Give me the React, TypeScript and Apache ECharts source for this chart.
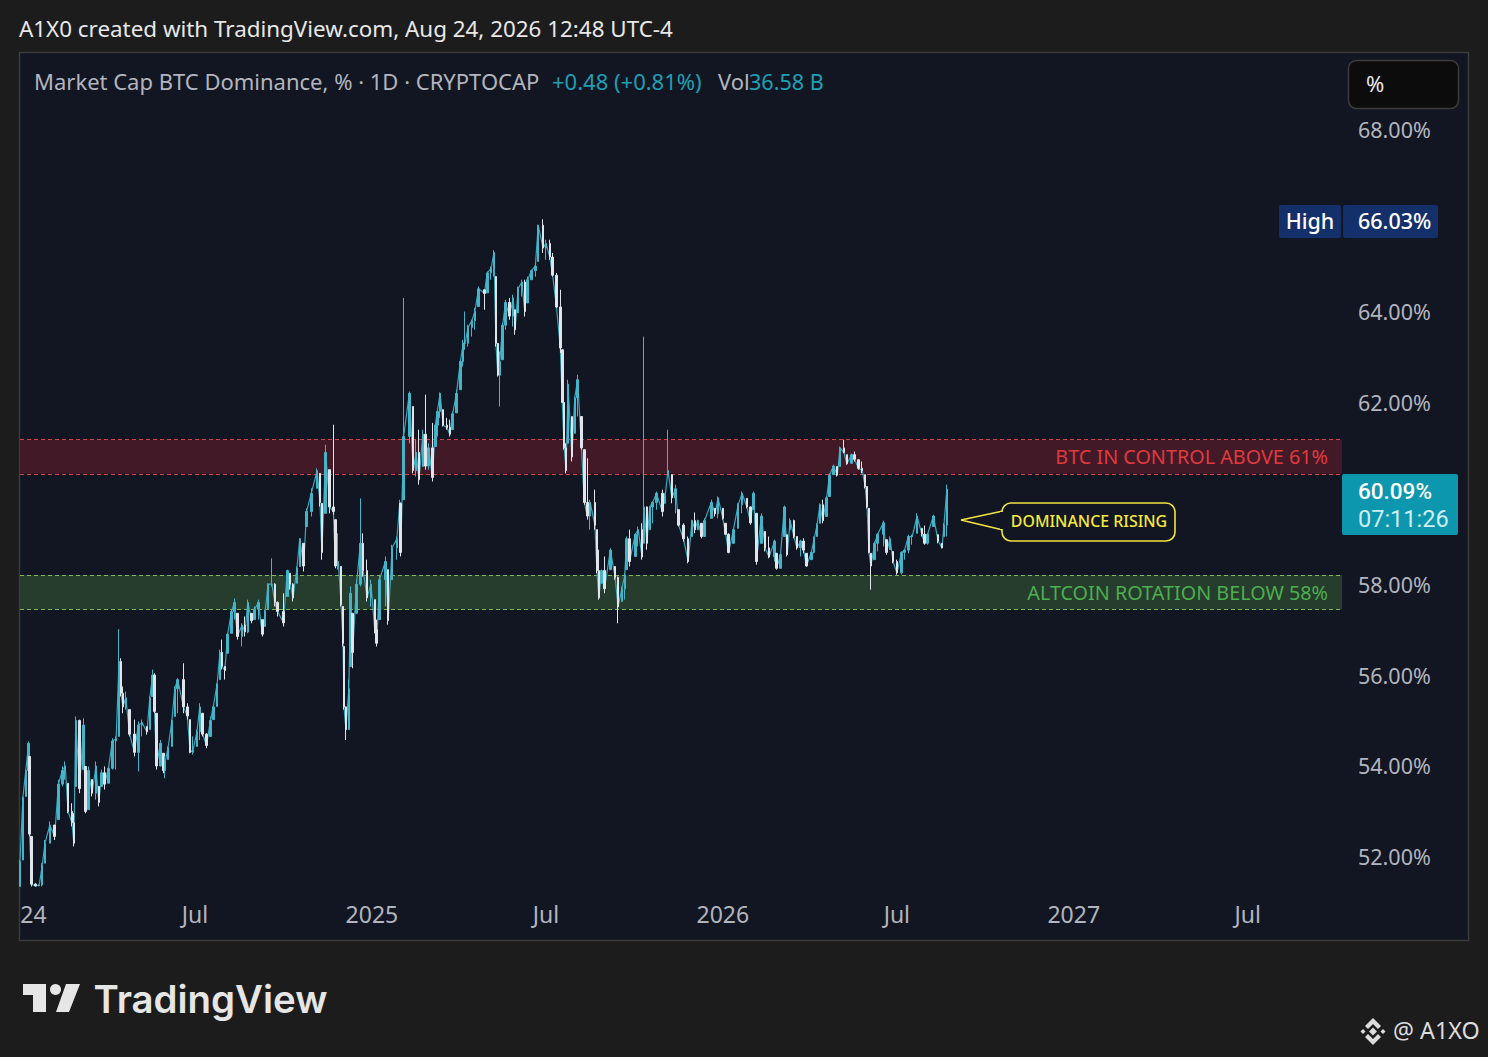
import React, { useEffect, useRef } from "react";
import * as echarts from "echarts";

// Days since 1 Jan 2024 of each sampled bar
const days = [
  0,3,6,9,10,12,16,20,23,26,
  31,36,40,44,47,50,54,56,58,62,
  66,68,71,75,79,82,85,88,92,96,
  100,103,105,107,110,114,119,123,127,132,
  135,138,140,142,146,149,151,154,158,161,
  164,170,174,177,180,184,187,190,194,198,
  201,205,208,210,213,216,220,223,226,231,
  234,237,241,244,248,252,255,258,262,265,
  268,274,278,281,284,288,291,295,298,303,
  309,312,314,318,322,326,328,331,334,336,
  337,339,342,344,346,350,354,357,361,365,
  369,371,374,380,383,387,392,395,396,399,
  405,409,412,415,419,422,425,429,432,434,
  437,440,444,447,450,454,458,461,463,466,
  470,473,477,483,486,490,493,495,497,499,
  502,505,509,513,515,518,522,525,528,532,
  536,539,544,547,551,554,558,562,564,566,
  568,570,574,577,580,584,587,590,593,598,
  600,602,605,608,614,619,622,626,629,631,
  634,640,643,647,649,652,655,658,662,668,
  671,674,678,682,685,690,695,699,702,705,
  709,712,719,723,726,731,734,737,742,747,
  751,756,760,763,766,771,775,779,785,787,
  791,795,798,801,805,808,812,815,818,823,
  826,829,832,835,839,842,846,850,853,857,
  860,865,868,872,876,879,881,883,885,889,
  892,898,901,905,908,912,917,920,924,928,
  933,938,941,944,950,955,959,961,964,
];

const highs = [
  51.93,53.33,53.92,54.54,54.21,52.45,51.42,51.39,51.86,52.37,
  52.78,52.70,53.70,53.99,54.10,53.62,53.18,52.96,55.09,55.02,
  55.05,53.99,53.99,53.70,54.10,53.55,53.92,53.99,53.99,54.61,
  54.65,57.01,56.37,55.75,55.64,55.24,55.02,54.98,55.02,54.87,
  55.53,56.12,56.04,55.16,54.57,54.28,54.21,54.43,55.02,55.75,
  55.93,56.26,55.38,55.02,54.65,54.80,55.38,55.16,54.72,55.09,
  55.35,55.82,56.56,56.78,56.19,56.92,57.44,57.69,57.36,57.14,
  57.29,57.66,57.36,57.51,57.66,57.22,57.44,58.02,58.57,58.02,
  57.62,57.80,58.32,58.24,58.02,58.39,59.01,58.90,59.67,60.11,
  60.55,60.44,59.78,61.07,60.52,61.51,59.42,59.12,58.39,57.51,
  56.63,55.31,55.90,57.95,57.36,58.10,59.89,59.12,58.54,58.10,
  57.66,57.22,58.21,58.61,58.32,58.87,59.05,59.86,59.78,64.30,
  62.24,61.91,61.18,61.40,61.40,62.17,61.10,61.55,61.55,61.84,
  62.22,61.84,61.66,61.62,61.80,62.28,62.94,63.38,64.00,63.71,
  63.82,64.08,64.55,64.48,64.88,64.99,65.35,64.77,63.31,63.12,
  63.75,64.26,64.30,64.37,64.04,64.55,64.70,64.70,64.77,64.92,
  65.07,65.91,66.03,65.58,65.58,65.29,64.85,64.48,63.16,62.02,
  61.10,62.50,61.69,62.13,62.61,61.69,60.96,60.77,59.86,60.08,
  59.20,58.76,58.32,58.61,58.79,58.39,58.17,57.95,58.24,59.05,
  59.20,59.12,59.27,59.34,63.45,59.71,59.71,59.82,60.04,60.08,
  60.00,61.40,60.41,60.19,59.64,59.34,59.05,59.42,59.58,59.42,
  59.34,59.45,59.86,59.67,59.93,59.67,59.34,59.12,59.23,59.78,
  60.04,59.89,59.71,60.04,59.56,59.56,59.16,59.05,58.98,58.68,
  58.68,59.73,59.09,59.45,59.42,59.05,58.98,59.01,58.68,58.72,
  59.05,59.34,59.78,59.86,59.93,60.44,60.63,60.59,61.03,61.18,
  60.85,60.88,60.92,60.74,60.70,60.41,60.15,59.67,58.68,58.94,
  59.12,59.40,58.98,59.05,58.72,58.54,58.72,58.76,59.09,59.09,
  59.56,59.23,59.29,59.12,59.53,59.09,58.90,59.34,60.19,
];

const lows = [
  51.35,51.93,53.33,53.84,52.45,51.35,51.35,51.35,51.35,51.86,
  52.30,52.37,52.82,53.55,53.70,52.96,52.67,52.23,53.55,53.40,
  53.92,52.96,53.04,53.33,53.26,53.11,53.55,53.48,53.62,53.92,
  53.92,54.65,55.53,55.16,55.24,54.65,54.21,53.88,54.65,54.69,
  54.80,55.53,55.16,53.92,53.99,53.84,53.73,54.14,54.43,55.09,
  55.16,55.16,55.02,54.28,54.25,54.43,54.57,54.65,54.39,54.65,
  55.02,55.31,55.90,56.12,55.90,56.48,56.92,57.22,56.78,56.63,
  56.85,56.92,57.14,57.22,57.22,56.85,57.07,57.44,57.95,57.51,
  57.29,57.07,57.73,57.88,57.62,58.02,58.39,58.28,59.27,59.49,
  60.11,59.71,58.54,59.56,59.56,59.53,58.35,58.32,57.51,56.63,
  55.24,54.57,54.80,56.19,56.15,57.36,57.95,58.17,57.62,57.51,
  56.92,56.63,57.22,57.51,57.11,58.10,58.54,59.05,58.61,59.86,
  61.10,60.44,60.37,60.19,60.59,60.52,60.52,60.26,61.03,61.25,
  61.66,61.47,61.40,61.25,61.40,61.77,62.28,62.79,63.16,63.23,
  63.45,63.60,64.11,64.04,64.41,64.70,64.77,63.23,62.57,61.91,
  62.94,63.60,63.82,63.67,63.49,63.97,64.33,63.89,64.19,64.70,
  64.77,65.10,65.29,65.14,65.14,64.77,64.08,63.09,61.99,60.96,
  60.44,61.10,60.70,61.32,61.69,60.96,59.75,59.42,59.20,59.20,
  58.24,57.66,58.02,57.80,58.32,58.10,57.14,57.62,57.66,58.32,
  58.39,58.61,58.83,58.54,58.90,58.76,59.20,59.34,59.64,59.49,
  59.78,60.41,59.78,59.56,59.27,58.94,58.46,59.05,59.12,59.20,
  59.01,59.05,59.45,59.49,59.45,59.42,59.09,58.68,58.90,59.23,
  59.56,59.67,59.31,59.64,58.43,58.90,58.72,58.57,58.50,58.32,
  58.35,59.05,58.61,59.20,59.01,58.76,58.61,58.68,58.39,58.54,
  58.68,59.05,59.34,59.34,59.49,59.93,60.41,60.37,60.59,60.88,
  60.63,60.66,60.70,60.52,60.44,60.11,59.67,58.68,57.88,58.54,
  58.72,58.83,58.65,58.76,58.46,58.21,58.21,58.54,58.68,58.87,
  59.12,59.05,58.87,58.87,59.27,58.90,58.79,59.05,59.05,
];

const closes = [
  51.90,53.30,53.90,54.50,52.50,51.40,51.36,51.38,51.80,52.30,
  52.70,52.45,53.60,53.90,54.00,53.00,52.75,52.30,55.00,53.50,
  54.90,53.00,53.90,53.40,54.00,53.20,53.85,53.60,53.95,54.55,
  54.60,56.30,55.60,55.30,55.50,54.70,54.30,54.90,54.95,54.75,
  55.50,56.00,55.20,54.00,54.50,53.90,54.10,54.40,55.00,55.70,
  55.90,55.30,55.10,54.30,54.35,54.75,55.30,54.70,54.45,55.00,
  55.30,55.80,56.50,56.20,56.10,56.90,57.40,57.60,56.85,57.10,
  56.95,57.60,57.20,57.45,57.60,56.90,57.40,58.00,58.00,57.60,
  57.40,57.15,58.30,58.00,57.70,58.35,59.00,58.40,59.60,60.00,
  60.50,59.80,58.70,60.90,59.70,59.60,58.40,58.50,57.55,56.70,
  55.30,54.80,55.70,57.80,56.50,58.00,58.90,58.30,57.70,58.00,
  57.00,56.70,58.10,58.50,57.20,58.80,59.00,59.80,58.70,61.25,
  62.20,60.50,60.90,60.30,61.30,60.60,61.00,60.35,61.50,61.80,
  62.20,61.50,61.45,61.30,61.75,62.20,62.90,63.30,63.30,63.65,
  63.80,64.00,64.50,64.40,64.85,64.95,65.30,63.30,62.60,62.90,
  63.70,64.20,63.90,64.30,63.60,64.50,64.65,64.00,64.70,64.90,
  65.00,65.90,65.40,65.50,65.20,64.80,64.10,63.20,62.00,61.00,
  60.50,62.40,60.80,62.10,62.50,61.00,59.80,59.50,59.80,59.30,
  58.30,57.70,58.30,57.90,58.75,58.15,57.50,57.90,58.20,59.00,
  58.50,59.10,59.20,58.60,59.70,58.90,59.70,59.80,60.00,59.60,
  59.95,60.50,59.90,60.10,59.30,59.00,58.50,59.40,59.20,59.40,
  59.05,59.40,59.80,59.55,59.90,59.45,59.10,58.70,59.20,59.75,
  60.00,59.70,59.35,60.00,58.50,59.50,58.80,58.60,58.95,58.35,
  58.65,59.70,58.65,59.40,59.05,58.80,58.95,58.75,58.40,58.70,
  59.00,59.30,59.75,59.40,59.90,60.40,60.60,60.40,61.00,60.90,
  60.65,60.85,60.75,60.55,60.50,60.15,59.70,58.70,58.40,58.90,
  59.10,59.35,58.70,59.00,58.50,58.25,58.70,58.75,59.05,59.05,
  59.50,59.10,58.90,59.10,59.50,58.95,58.80,59.30,60.09,
];

const priceTicks = [68, 64, 62, 58, 56, 54, 52];
const timeTickDays = [14, 182, 366, 547, 731, 912, 1096, 1277];
const timeTickLabels = ["24", "Jul", "2025", "Jul", "2026", "Jul", "2027", "Jul"];
const redZone = [61.18, 60.43];
const greenZone = [58.2, 57.44];
const redLabel = "BTC IN CONTROL ABOVE 61%";
const greenLabel = "ALTCOIN ROTATION BELOW 58%";

const UI_FONT = '"Noto Sans", sans-serif';
const ROBOTO = "Roboto, sans-serif";

const candleData = days.map((d, i) => {
  const prev = i === 0 ? lows[0] : closes[i - 1];
  const open = Math.min(highs[i], Math.max(lows[i], prev));
  return [d, open, closes[i], lows[i], highs[i]];
});
const closeLine = days.map((d, i) => [d, closes[i]]);

function txt(text: string, x: number, y: number, size: number, fill: string, extra: any = {}) {
  const { weight, align, family } = extra;
  return {
    type: "text",
    silent: true,
    z: 20,
    style: {
      text,
      x,
      y,
      fill,
      font: `${weight || 400} ${size}px ${family || UI_FONT}`,
      align: align || "left",
      verticalAlign: "middle",
    },
  };
}

function poly(points: number[][], fill: string, extra: any = {}) {
  return { type: "polygon", silent: true, z: 20, shape: { points }, style: { fill, ...extra } };
}

function box(x: number, y: number, width: number, height: number, fill: string, r = 0, stroke?: string, lineWidth = 1, z = 15) {
  return {
    type: "rect",
    silent: true,
    z,
    shape: { x, y, width, height, r },
    style: { fill, stroke, lineWidth },
  };
}

function zoneLine(v: number, color: string) {
  return { yAxis: v, lineStyle: { color, width: 1, type: [4, 3] } };
}

function zoneArea(zone: number[], fill: string, labelText: string, labelColor: string) {
  return [
    {
      yAxis: zone[0],
      itemStyle: { color: fill },
      label: {
        show: true,
        formatter: labelText,
        position: "insideRight",
        distance: 14,
        color: labelColor,
        fontSize: 19.8,
        fontFamily: UI_FONT,
      },
    },
    { yAxis: zone[1] },
  ];
}

export default function App() {
  const ref = useRef<HTMLDivElement>(null);
  useEffect(() => {
    document.body.style.margin = "0";
    document.body.style.background = "#1c1c1c";
    const chart = echarts.init(ref.current!, undefined, { renderer: "svg" });
    const PANE = "#121622";
    const option: any = {
      animation: false,
      backgroundColor: "#1c1c1c",
      textStyle: { fontFamily: UI_FONT },
      grid: { left: 20, right: 146, top: 53, bottom: 117, containLabel: false },
      xAxis: {
        type: "value",
        min: 0,
        max: 1375,
        axisLine: { show: false },
        axisTick: { show: false },
        splitLine: { show: false },
        axisLabel: {
          inside: true,
          margin: 15,
          color: "#b2b5be",
          fontSize: 23,
          fontFamily: UI_FONT,
          hideOverlap: false,
          customValues: timeTickDays,
          formatter: (v: number) => {
            const idx = timeTickDays.indexOf(v);
            return idx >= 0 ? timeTickLabels[idx] : "";
          },
        },
      },
      yAxis: {
        type: "value",
        position: "right",
        min: 50.17,
        max: 69.69,
        axisLine: { show: false },
        axisTick: { show: false },
        splitLine: { show: false },
        axisLabel: {
          margin: 16,
          color: "#b2b5be",
          fontSize: 21.5,
          fontFamily: UI_FONT,
          padding: [0, 0, 2, 0],
          customValues: priceTicks,
          formatter: (v: number) => `${v.toFixed(2)}%`,
        },
      },
      series: [
        {
          type: "line",
          data: closeLine,
          symbol: "none",
          silent: true,
          z: 4,
          lineStyle: { color: "#3ba7bb", width: 1.2 },
        },
        {
          type: "candlestick",
          data: candleData,
          encode: { x: 0, y: [1, 2, 3, 4] },
          barWidth: 2,
          z: 5,
          itemStyle: {
            color: "#45b4c8",
            color0: "#dfe5ea",
            borderColor: "#45b4c8",
            borderColor0: "#dfe5ea",
            borderWidth: 1,
          },
          markLine: {
            silent: true,
            symbol: "none",
            z: 2,
            label: { show: false },
            data: [
              zoneLine(redZone[0], "#d8434b"),
              zoneLine(redZone[1], "#d8434b"),
              zoneLine(greenZone[0], "#86b65a"),
              zoneLine(greenZone[1], "#86b65a"),
            ],
          },
          markArea: {
            silent: true,
            z: 1,
            data: [
              zoneArea(redZone, "#421a27", redLabel, "#e0393f"),
              zoneArea(greenZone, "#263c2c", greenLabel, "#4caf50"),
            ],
          },
        },
      ],
      graphic: {
        elements: [
          { ...box(19.5, 52.5, 1449, 888, PANE, 0, "#3a3a3a", 1.5, -10), z: -10 },
          txt("A1X0 created with TradingView.com, Aug 24, 2026 12:48 UTC-4", 19, 28, 22.4, "#e8e8e8"),
          txt("Market Cap BTC Dominance, % · 1D · CRYPTOCAP", 34, 81, 22, "#b2b5be"),
          txt("+0.48 (+0.81%)", 552, 81, 22, "#1f9fb2"),
          txt("Vol", 718, 81, 22, "#b2b5be"),
          txt("36.58 B", 749, 81, 21.6, "#1f9fb2"),
          box(1348.5, 60.5, 110, 48, "#0c0c0c", 8, "#3c3c3c", 1.5),
          txt("%", 1366, 83, 22, "#e8e8e8"),
          box(1279, 205, 62, 33, "#14306b", 2),
          box(1343, 205, 95, 33, "#14306b", 2),
          txt("High", 1310, 220, 21.5, "#ffffff", { align: "center", weight: 500 }),
          txt("66.03%", 1358, 220, 21.5, "#ffffff", { weight: 500 }),
          box(1342, 474, 116, 61, "#0d97ae", 2),
          txt("60.09%", 1358, 491, 22.5, "#ffffff", { family: ROBOTO, weight: 500 }),
          txt("07:11:26", 1358, 518.5, 23.5, "#cdeef3", { family: ROBOTO }),
          poly(
            [
              [1003, 511],
              [961, 520],
              [1003, 530],
            ],
            PANE,
            { stroke: "#f0e442", lineWidth: 1.6 }
          ),
          box(1002, 503, 173, 38, PANE, 9, "#f0e442", 1.6, 21),
          box(1000, 512, 5, 17, PANE, 0, undefined, 0, 22),
          { ...txt("DOMINANCE RISING", 1089, 521, 15.9, "#f5ea3c", { align: "center", weight: 500 }), z: 23 },
          poly(
            [
              [23, 984],
              [46, 984],
              [46, 1012],
              [33, 1012],
              [33, 995],
              [23, 995],
            ],
            "#e6e6e6"
          ),
          {
            type: "circle",
            silent: true,
            z: 20,
            shape: { cx: 55.5, cy: 989.5, r: 5.5 },
            style: { fill: "#e6e6e6" },
          },
          poly(
            [
              [66, 984],
              [80, 984],
              [69, 1012],
              [56, 1012],
            ],
            "#e6e6e6"
          ),
          txt("TradingView", 93.5, 999, 38.4, "#e6e6e6", { weight: 600, family: "Inter, sans-serif" }),
          poly(
            [
              [1373, 1018],
              [1381, 1026],
              [1378, 1029],
              [1373, 1024],
              [1368, 1029],
              [1365, 1026],
            ],
            "#dcdcdc"
          ),
          poly(
            [
              [1373, 1045],
              [1381, 1037],
              [1378, 1034],
              [1373, 1039],
              [1368, 1034],
              [1365, 1037],
            ],
            "#dcdcdc"
          ),
          poly(
            [
              [1373, 1027.5],
              [1377, 1031.5],
              [1373, 1035.5],
              [1369, 1031.5],
            ],
            "#dcdcdc"
          ),
          poly(
            [
              [1363, 1029],
              [1365.5, 1031.5],
              [1363, 1034],
              [1360.5, 1031.5],
            ],
            "#dcdcdc"
          ),
          poly(
            [
              [1383, 1029],
              [1385.5, 1031.5],
              [1383, 1034],
              [1380.5, 1031.5],
            ],
            "#dcdcdc"
          ),
          txt("@ A1XO", 1393, 1030, 23.3, "#dcdcdc"),
        ],
      },
    };
    chart.setOption(option);
    return () => chart.dispose();
  }, []);
  return <div ref={ref} style={{ position: "absolute", left: 0, top: 0, width: 1488, height: 1057 }} />;
}
